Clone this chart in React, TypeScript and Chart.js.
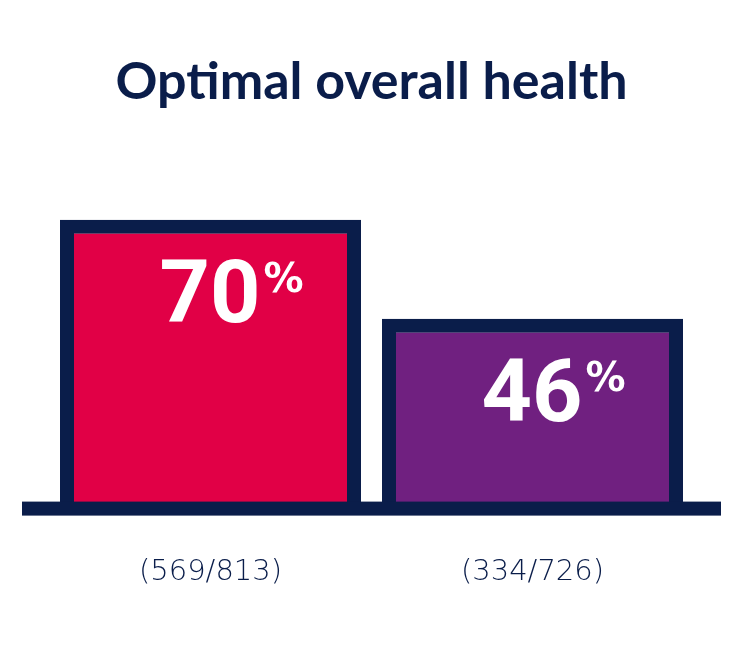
import React, { useEffect, useRef } from "react";
import { Chart, registerables } from "chart.js";

Chart.register(...registerables);

const TITLE = "Optimal overall health";
const categories = ["(569/813)", "(334/726)"];
const values = [70, 46];
const valueLabels = ["70", "46"];
const barColors = ["#E10046", "#702080"];
const NAVY = "#0A1D4A";

const baselinePlugin = {
  id: "baseline",
  afterDatasetsDraw(chart: any) {
    const { ctx, chartArea, scales } = chart;
    const y0 = scales.y.getPixelForValue(0);
    ctx.save();
    ctx.fillStyle = NAVY;
    ctx.fillRect(chartArea.left - 27.5, y0 - 7, chartArea.right - chartArea.left + 55, 14);
    ctx.restore();
  },
};

const valueLabelPlugin = {
  id: "valueLabels",
  afterDatasetsDraw(chart: any) {
    const { ctx } = chart;
    const meta = chart.getDatasetMeta(0);
    ctx.save();
    ctx.fillStyle = "#ffffff";
    ctx.textBaseline = "alphabetic";
    ctx.textAlign = "left";
    meta.data.forEach((bar: any, i: number) => {
      const big = "bold 88px Roboto";
      const small = "bold 40px 'DejaVu Sans'";
      ctx.font = big;
      const w1 = ctx.measureText(valueLabels[i]).width;
      ctx.font = small;
      const w2 = ctx.measureText("%").width;
      const gap = 3;
      const total = w1 + gap + w2;
      const start = bar.x + 21 - total / 2;
      ctx.font = big;
      ctx.fillText(valueLabels[i], start, bar.y + 102);
      ctx.font = small;
      ctx.fillText("%", start + w1 + gap, bar.y + 72);
    });
    ctx.restore();
  },
};

export default function App() {
  const ref = useRef<HTMLCanvasElement | null>(null);
  useEffect(() => {
    if (!ref.current) return;
    const chart = new Chart(ref.current, {
      type: "bar",
      data: {
        labels: categories,
        datasets: [
          {
            data: values,
            backgroundColor: barColors,
            borderColor: NAVY,
            borderWidth: 14,
            borderSkipped: "start",
            barPercentage: 1,
            categoryPercentage: 301 / 322,
          },
        ],
      },
      options: {
        animation: false,
        responsive: false,
        devicePixelRatio: 1,
        layout: { padding: { left: 49.5, right: 56.5, top: 0, bottom: 14.6 } },
        plugins: {
          legend: { display: false },
          tooltip: { enabled: false },
          title: {
            display: true,
            text: TITLE,
            color: NAVY,
            font: { family: "Lato", size: 52, weight: "bold" },
            padding: { top: 50.8, bottom: 65.4 },
          },
        },
        scales: {
          x: {
            grid: { display: false, drawTicks: false },
            border: { display: false },
            ticks: {
              color: NAVY,
              padding: 46,
              font: { family: "'DejaVu Sans'", size: 29, weight: "200" },
            },
          },
          y: { display: false, min: 0, max: 80 },
        },
      },
      plugins: [baselinePlugin, valueLabelPlugin],
    });
    return () => chart.destroy();
  }, []);
  return (
    <div style={{ position: "fixed", left: 0, top: 0, width: 750, height: 650, background: "#fff" }}>
      <canvas ref={ref} width={750} height={650} />
    </div>
  );
}
